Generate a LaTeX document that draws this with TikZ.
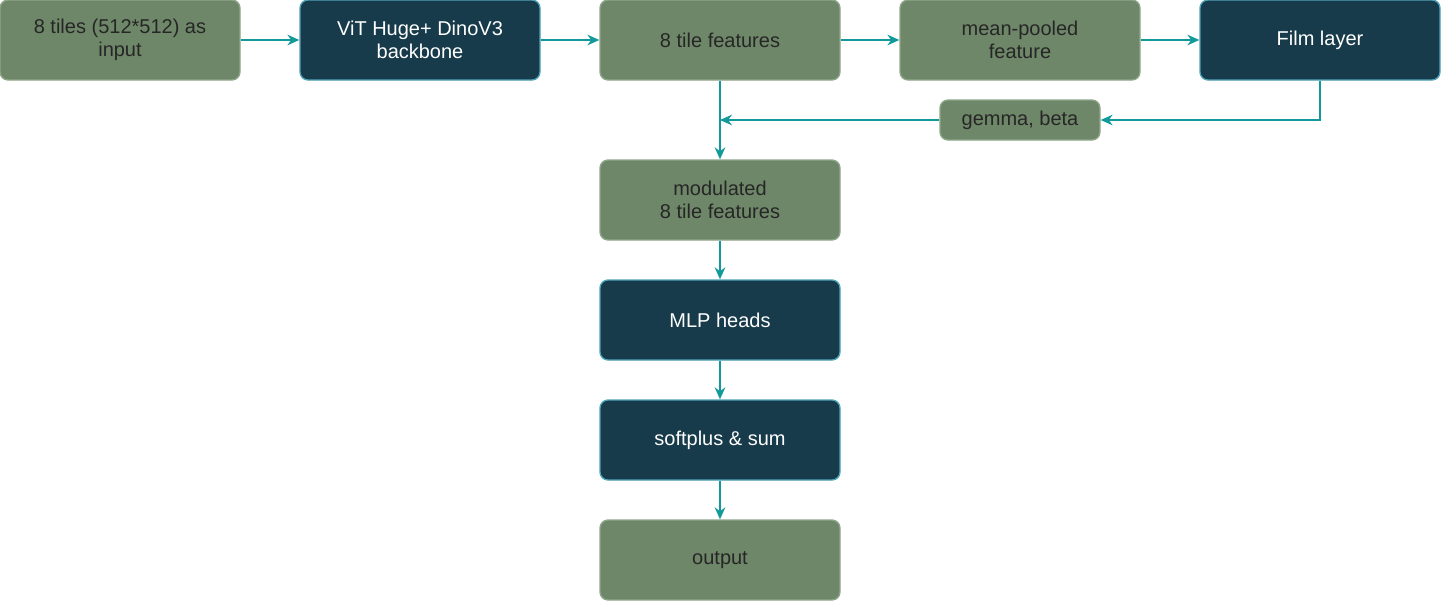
\documentclass[tikz,border=0pt]{standalone}
\usepackage{fontspec}
\setmainfont{Liberation Sans}
\usetikzlibrary{arrows.meta}
\definecolor{gfill}{HTML}{6F8769}
\definecolor{gline}{HTML}{8FA68A}
\definecolor{dfill}{HTML}{173B4A}
\definecolor{dline}{HTML}{4FA3B8}
\definecolor{arr}{HTML}{12999B}
\begin{document}
\begin{tikzpicture}[x=0.75pt,y=-0.75pt,
  box/.style={rounded corners=6pt,line width=1pt,minimum width=180pt,minimum height=60pt,inner sep=0pt,align=center,font=\fontsize{15}{17}\selectfont},
  gbox/.style={box,fill=gfill,draw=gline,text=black!85},
  dbox/.style={box,fill=dfill,draw=dline,text=white},
  ar/.style={draw=arr,line width=1.1pt,-{Stealth[length=9pt,width=8pt]}}]
\useasboundingbox (0,0) rectangle (1442,604);
\node[gbox] (in) at (120,40) {8 tiles (512*512) as\\input};
\node[dbox] (vit) at (420,40) {ViT Huge+ DinoV3\\backbone};
\node[gbox] (tf) at (720,40) {8 tile features};
\node[gbox] (mp) at (1020,40) {mean-pooled\\feature};
\node[dbox] (film) at (1320,40) {Film layer};
\node[gbox,minimum width=120pt,minimum height=30pt] (gb) at (1020,120) {gemma, beta};
\node[gbox] (mod) at (720,200) {modulated\\8 tile features};
\node[dbox] (mlp) at (720,320) {MLP heads};
\node[dbox] (sp) at (720,440) {softplus \& sum};
\node[gbox] (out) at (720,560) {output};
\coordinate (j) at (720,120);
\coordinate (fc) at (1320,120);
\draw[ar] (in) -- (vit);
\draw[ar] (vit) -- (tf);
\draw[ar] (tf) -- (mp);
\draw[ar] (mp) -- (film);
\draw[ar] (film.south) -- (fc) -- (gb.east);
\draw[ar] (gb.west) -- (j);
\draw[ar] (tf.south) -- (mod.north);
\draw[ar] (mod) -- (mlp);
\draw[ar] (mlp) -- (sp);
\draw[ar] (sp) -- (out);
\end{tikzpicture}
\end{document}
